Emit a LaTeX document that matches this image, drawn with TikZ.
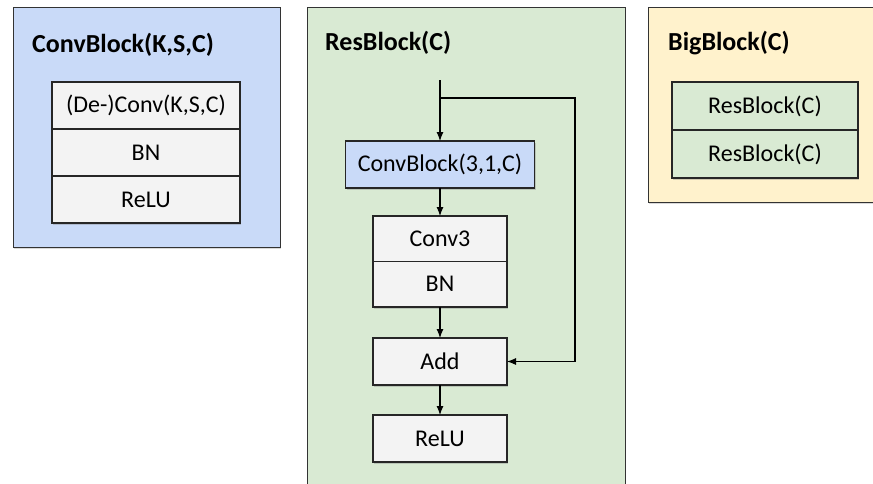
\documentclass[tikz,border=0pt]{standalone}
\usepackage{fontspec}
\setmainfont{Carlito}
\usetikzlibrary{positioning,arrows.meta,shadows}

\definecolor{convblue}{HTML}{C9DAF8}
\definecolor{resgreen}{HTML}{D9EAD3}
\definecolor{bigyellow}{HTML}{FFF2CC}
\definecolor{cellgray}{HTML}{F3F3F3}
\definecolor{edgegray}{HTML}{333333}

\tikzset{
  panel/.style={draw=edgegray, line width=1pt,
    drop shadow={opacity=0.3, shadow xshift=1pt, shadow yshift=-2pt}},
  paneltitle/.style={anchor=west, inner sep=0pt, font=\bfseries\fontsize{26}{30}\selectfont},
  cell/.style={draw=black!85, line width=1.4pt, fill=cellgray, inner sep=0pt, outer sep=0pt,
    minimum width=188pt, minimum height=47pt, font=\fontsize{24}{28}\selectfont,
    drop shadow={opacity=0.35, shadow xshift=1pt, shadow yshift=-2pt}},
  flow/.style={-{Latex[length=9pt,width=7pt]}, line width=1.1pt}
}

\begin{document}
\begin{tikzpicture}[x=1pt, y=-1pt]
  \useasboundingbox (0,0) rectangle (873,483);
  \clip (0,0) rectangle (873,483);

  % panels
  \filldraw[panel, fill=convblue] (13,7) rectangle (280,247);
  \filldraw[panel, fill=resgreen] (307,7) rectangle (625,520);
  \filldraw[panel, fill=bigyellow] (648,7) rectangle (890,202);

  \node[paneltitle] (convtitle) at (32,45) {ConvBlock(K,S,C)};
  \node[paneltitle] (restitle) at (325,43) {ResBlock(C)};
  \node[paneltitle] (bigtitle) at (668,43) {BigBlock(C)};

  % ConvBlock
  \node[cell, anchor=north] (deconv) at (146,82) {(De-)Conv(K,S,C)};
  \node[cell, below=0pt of deconv] (convbn) {BN};
  \node[cell, below=0pt of convbn] (convrelu) {ReLU};

  % ResBlock
  \coordinate (resin) at (440,80);
  \coordinate (split) at (440,98);
  \node[cell, fill=convblue, minimum width=189pt, anchor=north] (resconv) at (440,141) {ConvBlock(3,1,C)};
  \node[cell, minimum width=134pt, minimum height=45.5pt, anchor=north] (conv3) at (440,216) {Conv3};
  \node[cell, minimum width=134pt, minimum height=45.5pt, below=0pt of conv3] (resbn) {BN};
  \node[cell, minimum width=134pt, anchor=north] (add) at (440,338) {Add};
  \node[cell, minimum width=134pt, anchor=north] (resrelu) at (440,415) {ReLU};

  \draw[flow] (resin) -- (resconv);
  \draw[flow] (resconv) -- (conv3);
  \draw[flow] (resbn) -- (add);
  \draw[flow] (add) -- (resrelu);
  \draw[flow] (split) -- (575,98) |- (add.east);

  % BigBlock
  \node[cell, fill=resgreen, minimum width=186pt, minimum height=48pt, anchor=north] (res1) at (765,82) {ResBlock(C)};
  \node[cell, fill=resgreen, minimum width=186pt, minimum height=48pt, below=0pt of res1] (res2) {ResBlock(C)};
\end{tikzpicture}
\end{document}
